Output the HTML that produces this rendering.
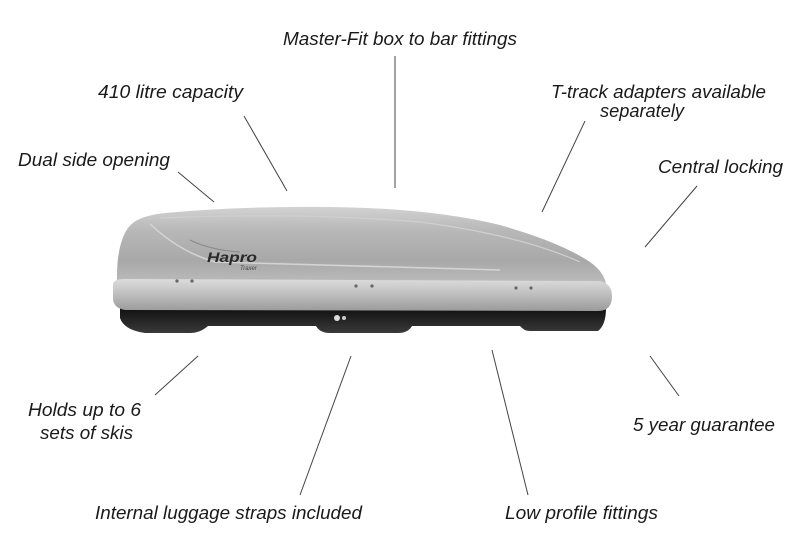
<!DOCTYPE html>
<html><head><meta charset="utf-8"><style>
html,body{margin:0;padding:0;background:#fff}
svg{display:block}
text{font-family:"Liberation Sans",sans-serif;font-style:italic;font-size:18px;fill:#1a1a1a}
</style></head><body>
<svg width="800" height="560" viewBox="0 0 800 560" xmlns="http://www.w3.org/2000/svg">
<defs>
<linearGradient id="shell" x1="0" y1="0" x2="0" y2="1">
<stop offset="0" stop-color="#d2d2d2"/><stop offset="0.3" stop-color="#b8b8b8"/>
<stop offset="0.7" stop-color="#a8a8a8"/><stop offset="1" stop-color="#bcbcbc"/></linearGradient>
<linearGradient id="rim" x1="0" y1="0" x2="0" y2="1">
<stop offset="0" stop-color="#dcdcdc"/><stop offset="0.5" stop-color="#bdbdbd"/><stop offset="1" stop-color="#9a9a9a"/></linearGradient>
<linearGradient id="base" x1="0" y1="0" x2="0" y2="1">
<stop offset="0" stop-color="#101010"/><stop offset="1" stop-color="#3a3a3a"/></linearGradient>
</defs>
<g stroke="#444" stroke-width="1" fill="none">
<line x1="178" y1="172" x2="214" y2="202"/>
<line x1="244" y1="116" x2="287" y2="191"/>
<line x1="395" y1="56" x2="395" y2="188"/>
<line x1="585" y1="121" x2="542" y2="212"/>
<line x1="697" y1="186" x2="645" y2="247"/>
<line x1="198" y1="356" x2="155" y2="395"/>
<line x1="351" y1="356" x2="300" y2="495"/>
<line x1="492" y1="350" x2="528" y2="495"/>
<line x1="650" y1="356" x2="679" y2="396"/>
</g>
<path d="M120 308 L606 308 Q606 325 598 331 L530 331 Q524 331 520 326 L412 326 Q408 333 398 333 L330 333 Q320 333 316 326 L208 326 Q200 333 190 333 L145 333 Q124 330 120 318 Z" fill="url(#base)"/>
<path d="M117 284 Q116 245 128 228 Q136 216 165 213 Q240 206 330 207 Q430 208 500 225 Q560 242 590 262 Q604 272 606 284 Z" fill="url(#shell)"/>
<path d="M150 224 Q180 252 215 262 L500 270" stroke="#d4d4d4" stroke-width="1.5" fill="none"/>
<path d="M190 240 Q210 250 240 252" stroke="#8a8a8a" stroke-width="1" fill="none"/>
<path d="M160 218 Q300 212 420 222 Q520 235 580 262" stroke="#cfcfcf" stroke-width="1.2" fill="none"/>
<path d="M113 284 Q114 279 124 279 L600 281 Q612 284 612 296 Q612 311 598 311 L125 310 Q113 308 113 298 Z" fill="url(#rim)"/>
<g fill="#666"><circle cx="177" cy="281" r="1.6"/><circle cx="192" cy="281" r="1.6"/><circle cx="356" cy="286" r="1.6"/><circle cx="372" cy="286" r="1.6"/><circle cx="516" cy="288" r="1.6"/><circle cx="531" cy="288" r="1.6"/></g>
<circle cx="337" cy="318" r="3" fill="#ddd"/><circle cx="344" cy="318" r="2" fill="#ccc"/>
<text x="207" y="262" style="font-weight:bold;font-size:14px;fill:#2a2a2a" textLength="50" lengthAdjust="spacingAndGlyphs">Hapro</text>
<text x="240" y="270" style="font-size:6px;fill:#444">Traxer</text>
<text x="283" y="45" textLength="234" lengthAdjust="spacingAndGlyphs">Master-Fit box to bar fittings</text>
<text x="98" y="98" textLength="145" lengthAdjust="spacingAndGlyphs">410 litre capacity</text>
<text x="551" y="98" textLength="215" lengthAdjust="spacingAndGlyphs">T-track adapters available</text>
<text x="600" y="117" textLength="84" lengthAdjust="spacingAndGlyphs">separately</text>
<text x="18" y="166" textLength="152" lengthAdjust="spacingAndGlyphs">Dual side opening</text>
<text x="658" y="173" textLength="125" lengthAdjust="spacingAndGlyphs">Central locking</text>
<text x="28" y="416" textLength="113" lengthAdjust="spacingAndGlyphs">Holds up to 6</text>
<text x="40" y="439" textLength="93" lengthAdjust="spacingAndGlyphs">sets of skis</text>
<text x="633" y="431" textLength="142" lengthAdjust="spacingAndGlyphs">5 year guarantee</text>
<text x="95" y="519" textLength="267" lengthAdjust="spacingAndGlyphs">Internal luggage straps included</text>
<text x="505" y="519" textLength="153" lengthAdjust="spacingAndGlyphs">Low profile fittings</text>
</svg>
</body></html>
